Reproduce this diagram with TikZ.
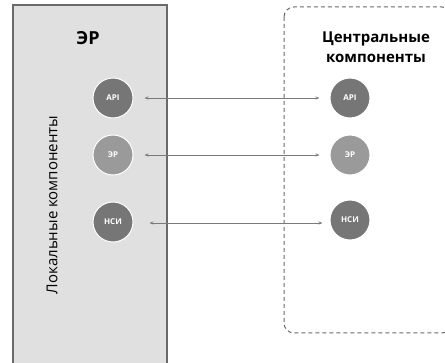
\documentclass[tikz,border=0pt]{standalone}
\usepackage{fontspec}
\setmainfont{Open Sans}
\usetikzlibrary{arrows.meta}
\definecolor{panelgray}{HTML}{E0E0E0}
\definecolor{edgegray}{HTML}{6A6A6A}
\definecolor{darkball}{HTML}{767676}
\definecolor{lightball}{HTML}{9A9A9A}
\definecolor{linkgray}{HTML}{7A7A7A}
\tikzset{
  ball/.style={circle, minimum size=40pt, inner sep=0pt, draw=white, line width=1pt,
    text=white, font=\fontsize{8}{9}\selectfont\bfseries},
  link/.style={draw=linkgray, line width=0.9pt, {Stealth[length=4pt,width=3pt]}-{Stealth[length=4pt,width=3pt]}}
}
\begin{document}
\begin{tikzpicture}[x=1pt,y=-1pt]
\useasboundingbox (0,0) rectangle (445,363);
% local side panel
\path[fill=panelgray, draw=edgegray, line width=1.2pt] (13,370) -- (13,5) -- (167,5) -- (167,370);
\node[font=\fontsize{18}{20}\selectfont\bfseries] (ltitle) at (88,38) {ЭР};
\node[rotate=90, font=\fontsize{15}{17}\selectfont] (lside) at (52,205) {Локальные компоненты};
% central side frame
\draw[edgegray, line width=1pt, dash pattern=on 4pt off 3pt, rounded corners=10pt]
  (284,7) rectangle (452,333);
\node[font=\fontsize{15}{20}\selectfont\bfseries, align=center] (rtitle) at (376,47) {Центральные\\компоненты};
% components
\node[ball, fill=darkball] (lapi) at (113,98) {API};
\node[ball, fill=lightball] (ler) at (113,155) {ЭР};
\node[ball, fill=darkball] (lnsi) at (113,222) {НСИ};
\node[ball, fill=darkball] (rapi) at (350,98) {API};
\node[ball, fill=lightball] (rer) at (350,155) {ЭР};
\node[ball, fill=darkball] (rnsi) at (350,220) {НСИ};
% links
\draw[link] ([xshift=11pt]lapi.east) -- ([xshift=-10pt]rapi.west);
\draw[link] ([xshift=11pt]ler.east) -- ([xshift=-10pt]rer.west);
\draw[link] ([xshift=16pt,yshift=-1pt]lnsi.east) -- ([xshift=-7pt,yshift=-3pt]rnsi.west);
\end{tikzpicture}
\end{document}
